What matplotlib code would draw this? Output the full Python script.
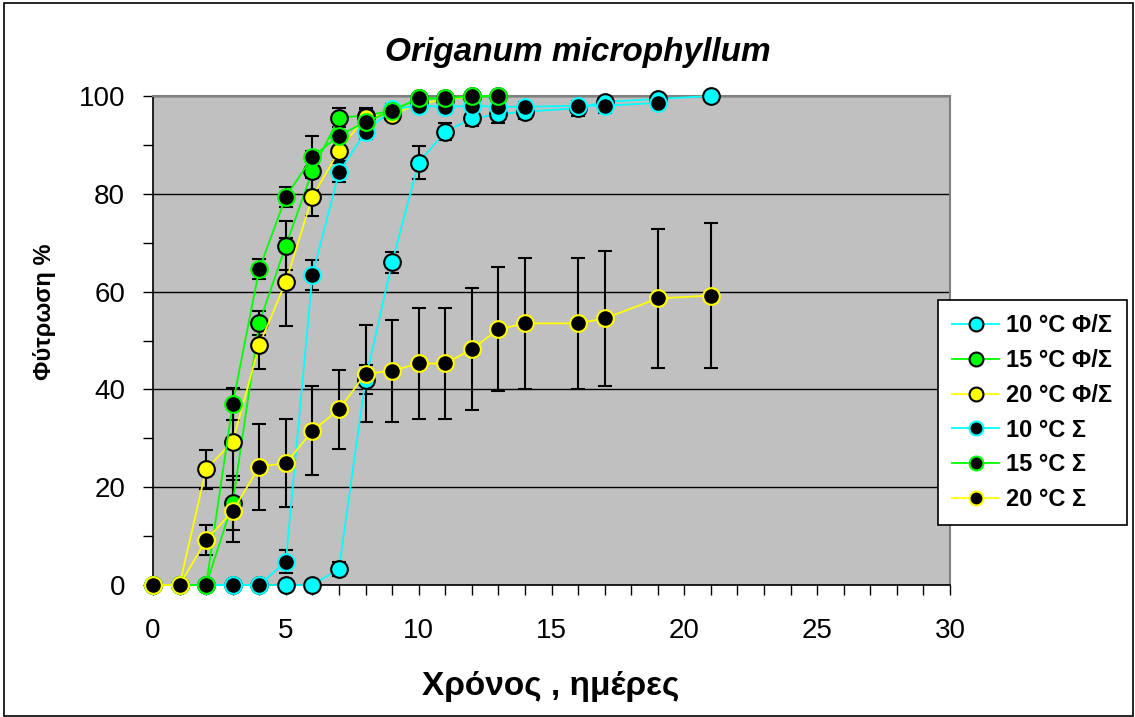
import numpy as np
import matplotlib
matplotlib.use("Agg")
import matplotlib.pyplot as plt
from matplotlib.patches import Rectangle
from matplotlib.ticker import MultipleLocator

plt.rcParams['font.family'] = ['Liberation Sans', 'DejaVu Sans']

# ημέρες / τιμές φύτρωσης (%) / τυπικά σφάλματα
days10_fs = [0, 1, 2, 3, 4, 5, 6, 7, 8, 9, 10, 11, 12, 13, 14, 16, 17, 19, 21]
g10_fs = [0, 0, 0, 0, 0, 0, 0, 3.3, 42, 66, 86.4, 92.7, 95.4, 96.3, 96.8, 97.5, 98.8, 99.4, 100]
e10_fs = [0, 0, 0, 0, 0, 0, 0, 1.5, 3, 2.1, 3.3, 1.8, 1.5, 1.8, 1.5, 1.5, 1.2, 0.8, 0]

days15_fs = [0, 1, 2, 3, 4, 5, 6, 7, 8, 9, 10, 11, 12, 13]
g15_fs = [0, 0, 0, 16.8, 53.6, 69.4, 84.7, 95.6, 96, 97, 99.5, 99.5, 99.8, 100]
e15_fs = [0, 0, 0, 5.5, 2.5, 5, 4, 2, 1.5, 1, 0.5, 0.5, 0, 0]

days20_fs = [0, 1, 2, 3, 4, 5, 6, 7, 8, 9, 10, 11, 12]
g20_fs = [0, 0, 23.7, 29.3, 49.1, 62, 79.4, 88.8, 95.8, 96.1, 98.5, 99.2, 100]
e20_fs = [0, 0, 4, 7, 5, 9, 4, 2, 1.5, 1, 1, 0.8, 0]

days10_s = [0, 1, 2, 3, 4, 5, 6, 7, 8, 9, 10, 11, 12, 13, 14, 16, 17, 19]
g10_s = [0, 0, 0, 0, 0, 4.8, 63.4, 84.4, 92.7, 97.3, 98, 97.8, 98, 97.8, 97.8, 98, 98, 98.6]
e10_s = [0, 0, 0, 0, 0, 2.3, 3, 2, 1.5, 1, 1, 1, 1, 1, 1, 1, 1.5, 1]

days15_s = [0, 1, 2, 3, 4, 5, 6, 7, 8, 9, 10, 11, 12, 13]
g15_s = [0, 0, 0, 37, 64.6, 79.4, 87.5, 91.9, 94.7, 97, 99.5, 99.5, 100, 100]
e15_s = [0, 0, 0, 3.3, 2, 2, 4.3, 2.5, 1.5, 1, 0.5, 0.5, 0, 0]

days20_s = [0, 1, 2, 3, 4, 5, 6, 7, 8, 9, 10, 11, 12, 13, 14, 16, 17, 19, 21]
g20_s = [0, 0, 9.2, 15.1, 24.2, 24.9, 31.5, 35.9, 43.2, 43.8, 45.3, 45.3, 48.2, 52.3, 53.5, 53.5, 54.5, 58.6, 59.2]
e20_s = [0, 0, 3, 6.4, 8.8, 9, 9.1, 8.1, 9.9, 10.4, 11.3, 11.3, 12.5, 12.7, 13.4, 13.4, 13.9, 14.3, 14.8]

labels = ["10 °C Φ/Σ", "15 °C Φ/Σ", "20 °C Φ/Σ", "10 °C Σ", "15 °C Σ", "20 °C Σ"]

CYAN = "#00FFFF"
GREEN = "#00FF00"
YELLOW = "#FFFF00"

series = [
    (days10_fs, g10_fs, e10_fs, CYAN, CYAN, "black"),
    (days15_fs, g15_fs, e15_fs, GREEN, GREEN, "black"),
    (days20_fs, g20_fs, e20_fs, YELLOW, YELLOW, "black"),
    (days10_s, g10_s, e10_s, CYAN, "black", CYAN),
    (days15_s, g15_s, e15_s, GREEN, "black", GREEN),
    (days20_s, g20_s, e20_s, YELLOW, "black", YELLOW),
]

fig = plt.figure(figsize=(11.35, 7.17), dpi=100)
ax = fig.add_axes([153 / 1135, 1 - 585 / 717, (950 - 153) / 1135, (585 - 96) / 717])
ax.set_facecolor("#C0C0C0")

for d, g, e, lc, fc, ec in series:
    ax.errorbar(d, g, yerr=e, fmt="none", ecolor="black", elinewidth=1.5,
                capsize=5, capthick=1.5, zorder=2)

for (d, g, e, lc, fc, ec), lab in zip(series, labels):
    ax.plot(d, g, color=lc, lw=1.3, marker="o", markersize=12,
            markerfacecolor=fc, markeredgecolor=ec, markeredgewidth=1.5,
            label=lab, zorder=3, clip_on=False)

ax.set_xlim(0, 30)
ax.set_ylim(0, 100)
ax.xaxis.set_major_locator(MultipleLocator(5))
ax.xaxis.set_minor_locator(MultipleLocator(1))
ax.yaxis.set_major_locator(MultipleLocator(20))
ax.yaxis.set_minor_locator(MultipleLocator(10))
ax.tick_params(which="both", direction="out", color="black", width=1)
ax.tick_params(which="major", length=7, labelsize=20)
ax.tick_params(which="minor", length=7)
ax.tick_params(axis="x", which="major", pad=17)
ax.tick_params(axis="y", which="major", pad=13)
ax.grid(axis="y", which="major", color="black", lw=1, zorder=1)
ax.set_axisbelow(True)
for s in ["top", "right"]:
    ax.spines[s].set_color("#808080")
    ax.spines[s].set_linewidth(1.5)
for s in ["left", "bottom"]:
    ax.spines[s].set_linewidth(1.2)

fig.text(578 / 1135, 1 - 52 / 717, "Origanum microphyllum", fontsize=24,
         fontweight="bold", fontstyle="italic", ha="center", va="center")
fig.text(551 / 1135, 1 - 686 / 717, "Χρόνος , ημέρες", fontsize=24,
         fontweight="bold", ha="center", va="center")
fig.text(45 / 1135, 1 - 312 / 717, "Φύτρωση %", fontsize=17,
         fontweight="bold", ha="center", va="center", rotation=90)

leg = ax.legend(loc="upper left", bbox_to_anchor=(938 / 1135, 1 - 300 / 717),
                bbox_transform=fig.transFigure, prop={"weight": "bold", "size": 17},
                frameon=True, fancybox=False, edgecolor="black", framealpha=1,
                borderpad=0.6, labelspacing=0.5, handlelength=2.0,
                handletextpad=0.3, borderaxespad=0)
leg.get_frame().set_linewidth(1.2)
for h in leg.legend_handles:
    h.set_markersize(10)

fig.patches.append(Rectangle((4 / 1135, 0.002), 1 - 6 / 1135, 1 - 4 / 717,
                             transform=fig.transFigure, fill=False,
                             edgecolor="black", lw=1.2))

fig.savefig("out.png", dpi=100)
